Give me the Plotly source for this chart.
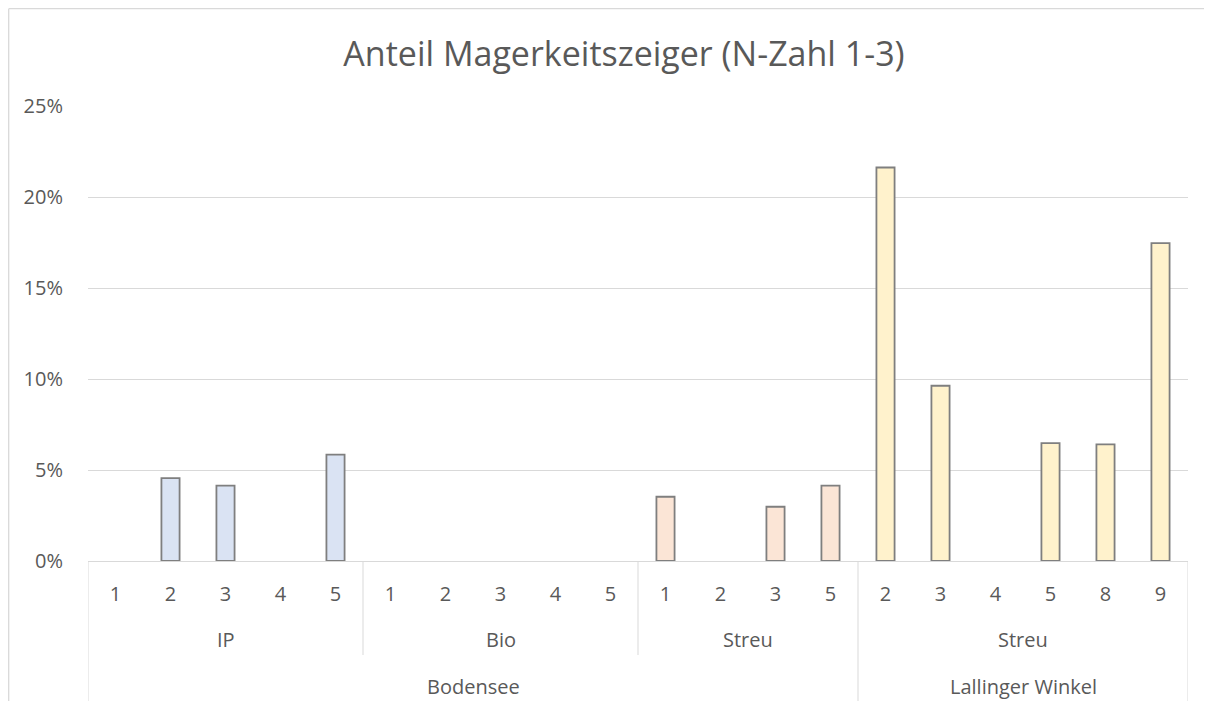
import plotly.graph_objects as go

# Data
plots = ["1", "2", "3", "4", "5", "1", "2", "3", "4", "5", "1", "2", "3", "5", "2", "3", "4", "5", "8", "9"]
usage = ["IP"] * 5 + ["Bio"] * 5 + ["Streu"] * 4 + ["Streu"] * 6
region = ["Bodensee"] * 14 + ["Lallinger Winkel"] * 6
values = [0.0, 0.0455, 0.0414, 0.0, 0.0584,
          0.0, 0.0, 0.0, 0.0, 0.0,
          0.0353, 0.0, 0.0298, 0.0414,
          0.2162, 0.0963, 0.0, 0.0648, 0.0641, 0.1747]
group_colors = {"IP": "#DAE3F3", "Bio": "#DAE3F3", "Streu-Bodensee": "#FBE5D6", "Streu-Lallinger Winkel": "#FFF2CC"}
y_ticks = [0, 0.05, 0.10, 0.15, 0.20, 0.25]

TEXT = "#595959"
GRID = "#D9D9D9"
FONT = "Open Sans"

# the page body adds an 8px margin; figure coordinates = page coordinates - 8
W, Hfig = 1196, 693
OFF = 8

def key(i):
    u = usage[i]
    return u if u != "Streu" else f"Streu-{region[i]}"

xs = list(range(len(values)))
colors = [group_colors[key(i)] for i in xs]
line_w = [1.8 if v > 0 else 0 for v in values]

fig = go.Figure()
fig.add_trace(go.Bar(
    x=xs, y=values, marker=dict(color=colors, line=dict(color="#7F7F7F", width=line_w)),
    width=0.33, hoverinfo="skip"))

def spans(keys):
    out = []
    start = 0
    for i in range(1, len(keys) + 1):
        if i == len(keys) or keys[i] != keys[start]:
            out.append((keys[start], start, i - 1))
            start = i
    return out

lvl2 = spans([(region[i], usage[i]) for i in xs])
lvl3 = spans(region)

PH = 455.0
def py(pix):  # page pixel y -> paper y
    return (561 - pix) / PH

def px(pix):  # page pixel x -> paper x
    return (pix - 88) / 1100.0

annotations = []
for (r, u), a, b in lvl2:
    annotations.append(dict(x=(a + b) / 2, y=py(639), xref="x", yref="paper", text=u, yanchor="middle",
                            showarrow=False, font=dict(size=20, color=TEXT, family=FONT)))
for r, a, b in lvl3:
    annotations.append(dict(x=(a + b) / 2, y=py(686), xref="x", yref="paper", text=r, yanchor="middle",
                            showarrow=False, font=dict(size=20, color=TEXT, family=FONT)))

shapes = []
shapes.append(dict(type="line", xref="x", yref="paper", x0=-0.5, x1=-0.5, y0=0, y1=py(702), line=dict(color=GRID, width=1)))
shapes.append(dict(type="line", xref="x", yref="paper", x0=len(xs) - 0.5, x1=len(xs) - 0.5, y0=0, y1=py(702), line=dict(color=GRID, width=1)))
lvl3_bounds = set(b for _, _, b in lvl3)
for _, a, b in lvl2[:-1]:
    y1 = py(702) if b in lvl3_bounds else py(655)
    shapes.append(dict(type="line", xref="x", yref="paper", x0=b + 0.5, x1=b + 0.5, y0=0, y1=y1, line=dict(color=GRID, width=1)))
# chart border (top and left edges visible)
bx, by = px(OFF + 0.7), py(OFF + 0.7)
shapes.append(dict(type="line", xref="paper", yref="paper", x0=bx, x1=px(1212), y0=by, y1=by,
                   line=dict(color=GRID, width=1.3), layer="below"))
shapes.append(dict(type="line", xref="paper", yref="paper", x0=bx, x1=bx, y0=by, y1=py(709),
                   line=dict(color=GRID, width=1.3), layer="below"))

fig.update_layout(
    width=W, height=Hfig,
    margin=dict(l=88 - OFF, r=W - (1188 - OFF), t=106 - OFF, b=Hfig - (561 - OFF)),
    paper_bgcolor="white", plot_bgcolor="white",
    showlegend=False,
    title=dict(text="Anteil Magerkeitszeiger (N-Zahl 1-3)", x=(624 - OFF) / W, xanchor="center",
               y=1 - (54 - OFF) / Hfig, yanchor="middle", font=dict(size=34, color=TEXT, family=FONT)),
    xaxis=dict(range=[-0.5, len(xs) - 0.5], tickmode="array", tickvals=xs, ticktext=plots,
               tickfont=dict(size=20, color=TEXT, family=FONT), showgrid=False, zeroline=False,
               showline=True, linecolor=GRID, linewidth=1, ticks="", ticklabelstandoff=15, fixedrange=True),
    yaxis=dict(range=[0, 0.25], tickvals=y_ticks, tickformat=".0%", tickfont=dict(size=20, color=TEXT, family=FONT),
               showgrid=True, gridcolor=GRID, gridwidth=1, zeroline=False, showline=False, ticks="",
               ticklabelstandoff=24),
    annotations=annotations, shapes=shapes,
)

fig.write_html("out.html")
